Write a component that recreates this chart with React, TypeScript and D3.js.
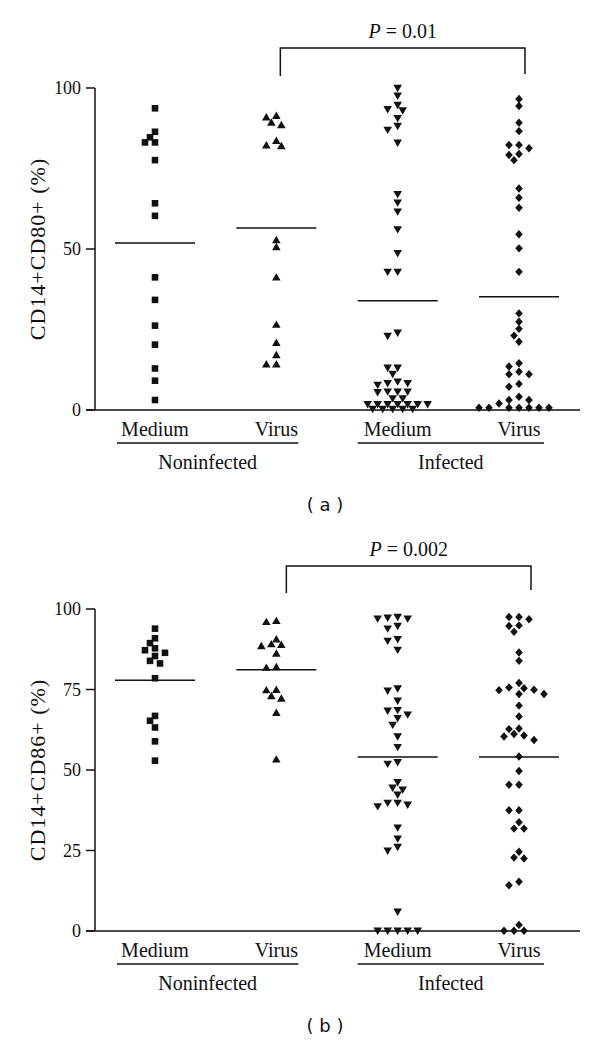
import React from "react";
import * as d3 from "d3";

// ---------- data ----------
const categories = ["Medium", "Virus", "Medium", "Virus"];
const groups = ["Noninfected", "Infected"];
const panelLabels = ["( a )", "( b )"];
const yLabels = ["CD14+CD80+ (%)", "CD14+CD86+ (%)"];
const pValues = ["0.01", "0.002"];
const ticksA = [0, 50, 100];
const ticksB = [0, 25, 50, 75, 100];

// Panel (a) CD14+CD80+
const aNonMedium = [93.7, 86.4, 84.7, 83.1, 83.1, 77.6, 64.2, 60.3, 41.2, 34.2, 26.2, 20.3, 12.9, 9.1, 3.1];
const aNonVirus = [91.4, 90.9, 89.3, 88.5, 83.6, 82.2, 82.0, 52.8, 50.6, 41.2, 26.5, 20.9, 17.1, 14.2, 14.2];
const aInfMedium = [100, 97.6, 94.7, 93.4, 93.0, 90.6, 88.2, 87.0, 83.0, 67.0, 64.4, 61.6, 56.1, 48.7, 42.9, 42.9,
  24.0, 23.0, 13.1, 13.1, 11.2, 8.8, 8.3, 8.3, 7.8, 5.7, 5.7, 5.7, 5.5, 3.6, 3.6,
  1.8, 1.8, 1.8, 1.8, 1.8, 1.8, 1.8, 0.3, 0.3, 0.3, 0.3, 0.3];
const aInfVirus = [96.6, 94.4, 89.2, 86.6, 82.3, 82.3, 81.3, 79.5, 79.2, 77.6, 68.8, 65.9, 62.8, 54.6, 50.2, 42.9,
  30.0, 27.4, 25.2, 23.1, 21.2, 14.5, 13.5, 11.9, 11.1, 11.1, 8.1, 7.2, 4.1, 3.1, 3.1, 2.0,
  0.7, 0.7, 0.7, 0.7, 0.7, 0.7, 0.7];
const meansA = [51.9, 56.5, 33.9, 35.2];

// Panel (b) CD14+CD86+
const bNonMedium = [93.9, 90.9, 89.4, 87.8, 87.2, 86.4, 85.4, 83.9, 83.1, 78.5, 66.8, 65.3, 63.2, 58.9, 52.9];
const bNonVirus = [96.3, 96.0, 90.6, 89.1, 88.9, 88.5, 86.2, 82.0, 81.8, 74.9, 74.8, 73.0, 72.2, 67.8, 53.3];
const bInfMedium = [97.5, 97.3, 97.0, 97.0, 94.7, 93.9, 90.6, 90.1, 87.3, 75.3, 74.6, 71.5, 68.6, 68.4, 67.2, 66.1,
  64.0, 60.4, 57.1, 52.4, 51.9, 46.2, 44.5, 43.9, 42.3, 39.8, 39.8, 39.2, 38.7, 32.1, 28.7, 26.1, 24.9, 6.0,
  0.1, 0.1, 0.1, 0.1, 0.1];
const bInfVirus = [97.5, 97.5, 96.8, 94.9, 94.7, 92.9, 86.5, 83.9, 77.0, 75.6, 75.4, 74.9, 74.8, 73.6, 73.6, 70.0,
  66.6, 62.9, 62.7, 61.2, 60.7, 60.4, 59.3, 54.2, 49.7, 45.4, 45.4, 37.5, 37.5, 33.8, 31.8, 31.8, 24.6, 22.8,
  22.5, 15.3, 14.2, 1.9, 0.1, 0.1, 0.1];
const meansB = [77.9, 81.1, 54.0, 54.0];

const seriesA = [aNonMedium, aNonVirus, aInfMedium, aInfVirus];
const seriesB = [bNonMedium, bNonVirus, bInfMedium, bInfVirus];

// ---------- helpers ----------
const SERIF = "'Liberation Serif', 'Times New Roman', serif";
const SANS = "'DejaVu Sans', sans-serif";
const INK = "#111";

// simple beeswarm: place points (largest first) at the centre-most free offset
function beeswarm(values: number[], y: (v: number) => number, step: number, minDist: number): number[] {
  const order = values.map((_, i) => i).sort((p, q) => values[q] - values[p]);
  const placed: { x: number; y: number }[] = [];
  const out: number[] = new Array(values.length).fill(0);
  for (const i of order) {
    const yy = y(values[i]);
    let done = false;
    for (let k = 0; k < 20 && !done; k++) {
      const signs = k === 0 ? [0] : [-1, 1];
      for (const s of signs) {
        const dx = s * k * step;
        const hit = placed.some((p) => (p.x - dx) ** 2 + (p.y - yy) ** 2 < minDist * minDist);
        if (!hit) {
          out[i] = dx;
          placed.push({ x: dx, y: yy });
          done = true;
          break;
        }
      }
    }
  }
  return out;
}

function markerPath(kind: number): string {
  if (kind === 0) return "M-3.3,-3.3H3.3V3.3H-3.3Z";
  if (kind === 1) return "M0,-4.2L4.3,3.2L-4.3,3.2Z";
  if (kind === 2) return "M0,4.2L4.3,-3.2L-4.3,-3.2Z";
  return "M0,-4.2L3.8,0L0,4.2L-3.8,0Z";
}

type PanelProps = {
  idx: number;
  series: number[][];
  means: number[];
  ticks: number[];
  yTop: number;
  yBottom: number;
  bracketY: number;
  bracketLeft: number;
  bracketRight: number;
  bracketDx: [number, number];
};

function Panel(props: PanelProps) {
  const { idx, series, means, ticks, yTop, yBottom, bracketY, bracketLeft, bracketRight, bracketDx } = props;
  const y = d3.scaleLinear().domain([0, 100]).range([yBottom, yTop]);
  const x = d3.scaleLinear().domain([0, 3]).range([155, 519]);
  const axisX = 95;
  const axisEnd = 580;
  const bx0 = x(1) + bracketDx[0];
  const bx1 = x(3) + bracketDx[1];
  const underline = [
    [x(0) - 38, x(1) + 22],
    [x(2) - 40, x(3) + 25],
  ];
  return (
    <g>
      {/* axes */}
      <line x1={axisX} x2={axisX} y1={y(100)} y2={y(0)} stroke={INK} strokeWidth={1.5} />
      <line x1={axisX - 9} x2={axisEnd} y1={y(0)} y2={y(0)} stroke={INK} strokeWidth={1.5} />
      {ticks.map((t) => (
        <g key={t}>
          <line x1={axisX - 9} x2={axisX} y1={y(t)} y2={y(t)} stroke={INK} strokeWidth={1.5} />
          <text x={axisX - 14} y={y(t)} dy="0.35em" textAnchor="end" fontFamily={SERIF} fontSize={18} fill={INK}>
            {t}
          </text>
        </g>
      ))}
      <text
        transform={`translate(37,${(y(0) + y(100)) / 2}) rotate(-90)`}
        textAnchor="middle"
        dy="0.35em"
        fontFamily={SERIF}
        fontSize={22}
        letterSpacing={1}
        fill={INK}
      >
        {yLabels[idx]}
      </text>
      {/* points */}
      {series.map((vals, ci) => {
        const offs = beeswarm(vals, (v) => y(v), 5, 6.8);
        return (
          <g key={ci}>
            {vals.map((v, i) => (
              <path key={i} d={markerPath(ci)} transform={`translate(${x(ci) + offs[i]},${y(v)})`} fill={INK} />
            ))}
            <line x1={x(ci) - 40} x2={x(ci) + 40} y1={y(means[ci])} y2={y(means[ci])} stroke={INK} strokeWidth={1.5} />
          </g>
        );
      })}
      {/* categories */}
      {categories.map((c, i) => (
        <text key={i} x={x(i)} y={y(0) + 19} dy="0.35em" textAnchor="middle" fontFamily={SERIF} fontSize={20} fill={INK}>
          {c}
        </text>
      ))}
      {groups.map((g, i) => (
        <g key={g}>
          <line x1={underline[i][0]} x2={underline[i][1]} y1={y(0) + 33} y2={y(0) + 33} stroke={INK} strokeWidth={1.5} />
          <text
            x={(underline[i][0] + underline[i][1]) / 2}
            y={y(0) + 52}
            dy="0.35em"
            textAnchor="middle"
            fontFamily={SERIF}
            fontSize={20}
            fill={INK}
          >
            {g}
          </text>
        </g>
      ))}
      {/* bracket */}
      <path
        d={`M${bx0},${bracketLeft}V${bracketY}H${bx1}V${bracketRight}`}
        fill="none"
        stroke={INK}
        strokeWidth={1.5}
      />
      <text x={(bx0 + bx1) / 2} y={bracketY - 17} dy="0.35em" textAnchor="middle" fontFamily={SERIF} fontSize={20} fill={INK}>
        <tspan fontStyle="italic">P</tspan>
        {` = ${pValues[idx]}`}
      </text>
      <text x={325} y={y(0) + 95} dy="0.35em" textAnchor="middle" fontFamily={SANS} fontSize={18} fill={INK}>
        {panelLabels[idx]}
      </text>
    </g>
  );
}

export default function App() {
  return (
    <div style={{ position: "absolute", left: 0, top: 0 }}>
      <svg width={600} height={1043} style={{ display: "block", background: "#fff" }}>
        <Panel
          idx={0}
          series={seriesA}
          means={meansA}
          ticks={ticksA}
          yTop={88}
          yBottom={410}
          bracketY={48}
          bracketLeft={76}
          bracketRight={74}
          bracketDx={[4, 6]}
        />
        <Panel
          idx={1}
          series={seriesB}
          means={meansB}
          ticks={ticksB}
          yTop={609}
          yBottom={931}
          bracketY={566}
          bracketLeft={593}
          bracketRight={590}
          bracketDx={[10, 12]}
        />
      </svg>
    </div>
  );
}
